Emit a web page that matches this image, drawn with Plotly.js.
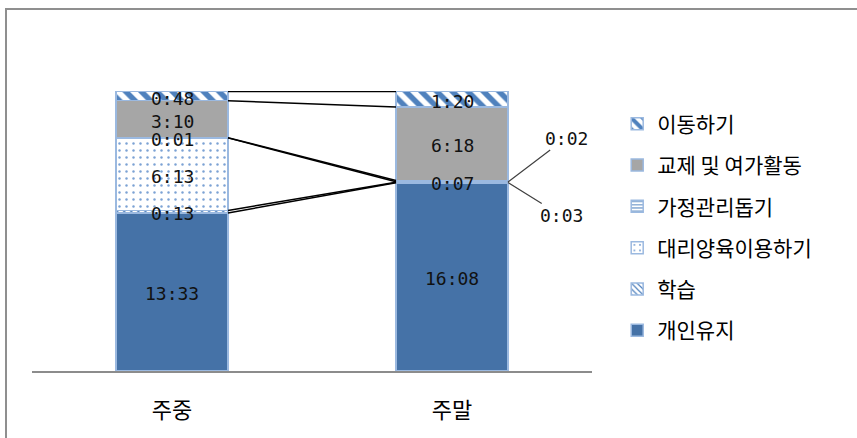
<!DOCTYPE html>
<html>
<head>
<meta charset="utf-8">
<script src="https://cdn.plot.ly/plotly-3.0.1.min.js"></script>
<style>
  html, body { margin: 0; padding: 0; background: #fff; }
  #wrap { position: relative; width: 857px; height: 438px; overflow: hidden; }
  #chart { position: absolute; left: 0; top: 0; width: 857px; height: 438px; }
  #frame { position: absolute; left: 5px; top: 8px; right: -4px; bottom: -4px;
           border-left: 2px solid #8f8f8f; border-top: 2px solid #8f8f8f; pointer-events: none; }
</style>
</head>
<body>
<div id="wrap">
  <div id="chart"></div>
  <div id="frame"></div>
</div>
<script>
// Time use by day type (hours:minutes), stacked from the bottom up
const categories = ['주중', '주말'];
const activities = ['개인유지', '학습', '대리양육이용하기', '가정관리돕기', '교제 및 여가활동', '이동하기'];
const weekdayTimes = ['13:33', '0:13', '6:13', '0:01', '3:10', '0:48'];
const weekendTimes = ['16:08', '0:03', '0:02', '0:07', '6:18', '1:20'];

function toHours(s) {
  const [h, m] = s.split(':').map(Number);
  return h + m / 60;
}

const weekdayHours = weekdayTimes.map(toHours);
const weekendHours = weekendTimes.map(toHours);

// Fill style for each activity
const styles = {
  '개인유지':        { color: '#4572A7' },
  '학습':            { color: '#ffffff', pattern: { shape: '\\', fgcolor: '#4F81BD', bgcolor: '#ffffff', size: 5, solidity: 0.3 } },
  '대리양육이용하기':  { color: '#ffffff', pattern: { shape: '.', fgcolor: '#7CA2D4', bgcolor: '#ffffff', size: 7, solidity: 0.1 } },
  '가정관리돕기':     { color: '#ffffff', pattern: { shape: '-', fgcolor: '#4F81BD', bgcolor: '#ffffff', size: 4, solidity: 0.3 } },
  '교제 및 여가활동':  { color: '#A6A6A6' },
  '이동하기':        { color: '#ffffff', pattern: { shape: '\\', fgcolor: '#4F81BD', bgcolor: '#ffffff', size: 11, solidity: 0.5 } }
};

const BAR_W = 0.4;
const traces = [];

activities.forEach((name, i) => {
  const st = styles[name];
  const marker = { color: st.color, line: { color: '#9BB9E0', width: 1.5 } };
  if (st.pattern) marker.pattern = st.pattern;
  traces.push({
    type: 'bar',
    name: name,
    legendgroup: 'g' + i,
    legendrank: activities.length - i,
    x: categories,
    y: [weekdayHours[i], weekendHours[i]],
    width: BAR_W,
    marker: marker,
    hoverinfo: 'skip'
  });
});

// Cumulative tops of each stacked segment
function cumulative(arr) {
  let s = 0;
  return arr.map(v => (s += v));
}
const cumWd = cumulative(weekdayHours);
const cumWe = cumulative(weekendHours);

// Series lines joining matching segment tops between the two bars
activities.forEach((name, i) => {
  traces.push({
    type: 'scatter',
    mode: 'lines',
    xaxis: 'x2',
    yaxis: 'y',
    x: [0 + BAR_W / 2, 1 - BAR_W / 2],
    y: [cumWd[i], cumWe[i]],
    line: { color: '#000000', width: 1.5 },
    showlegend: false,
    hoverinfo: 'skip',
    cliponaxis: false
  });
});

// Value labels
const labelFont = { family: 'DejaVu Sans Mono, monospace', size: 18, color: '#111111' };
const callouts = { '학습': { ax: 53, ay: 33 }, '대리양육이용하기': { ax: 58, ay: -44 } };
const annotations = [];

[[weekdayTimes, weekdayHours, cumWd, 0], [weekendTimes, weekendHours, cumWe, 1]].forEach(([labels, hrs, cum, ci]) => {
  activities.forEach((name, i) => {
    const mid = cum[i] - hrs[i] / 2;
    if (ci === 1 && callouts[name]) {
      annotations.push({
        xref: 'x2', yref: 'y', x: ci + BAR_W / 2, y: mid,
        text: labels[i], font: labelFont,
        showarrow: true, arrowhead: 0, arrowwidth: 1.2, arrowcolor: '#404040',
        ax: callouts[name].ax, ay: callouts[name].ay, standoff: 0
      });
    } else {
      annotations.push({
        xref: 'x', yref: 'y', x: categories[ci], y: mid,
        text: labels[i], font: labelFont, showarrow: false, yshift: -2
      });
    }
  });
});

const layout = {
  width: 857,
  height: 438,
  margin: { l: 32, r: 265, t: 91, b: 67 },
  paper_bgcolor: '#ffffff',
  plot_bgcolor: '#ffffff',
  barmode: 'stack',
  showlegend: true,
  xaxis: {
    type: 'category',
    range: [-0.5, 1.5],
    showline: true, linecolor: '#8c8c8c', linewidth: 1.5,
    showgrid: false, zeroline: false, ticks: '',
    ticklabelstandoff: 19,
    tickfont: { family: 'Noto Sans CJK KR', size: 22, color: '#000000' }
  },
  xaxis2: {
    overlaying: 'x', range: [-0.5, 1.5], visible: false, fixedrange: true
  },
  yaxis: {
    range: [0, 24], visible: false, showgrid: false, zeroline: false, fixedrange: true
  },
  legend: {
    x: 1.045, xanchor: 'left', y: 0.955, yanchor: 'top',
    traceorder: 'grouped', tracegroupgap: 11,
    font: { family: 'Noto Sans CJK KR', size: 21, color: '#000000' },
    itemwidth: 30, bgcolor: 'rgba(0,0,0,0)'
  },
  annotations: annotations
};

Plotly.newPlot('chart', traces, layout, { displayModeBar: false, staticPlot: true });
</script>
</body>
</html>
